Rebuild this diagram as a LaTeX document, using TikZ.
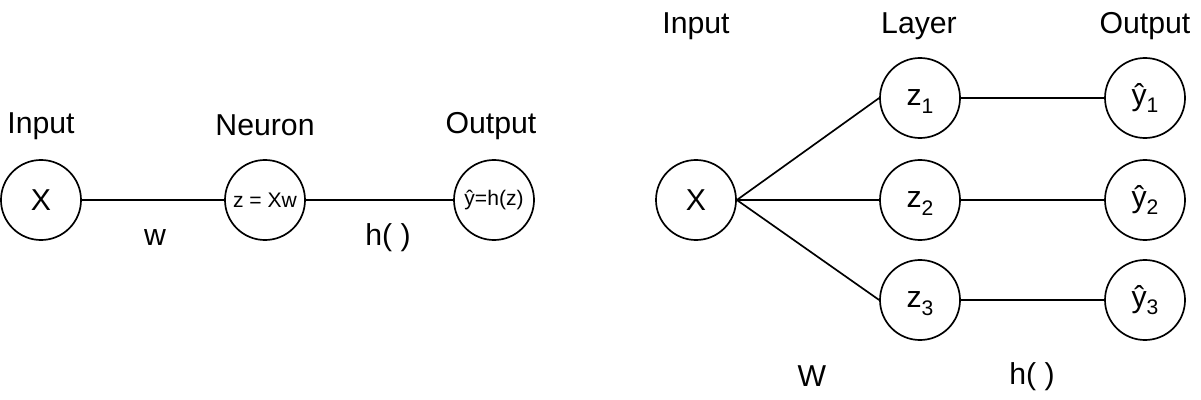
\documentclass[tikz,border=0pt]{standalone}
\usepackage{fontspec}
\setmainfont{Liberation Sans}
\newcommand\idx[1]{\smash{\raisebox{-5pt}{\fontsize{15}{16}\selectfont #1}}}
\begin{document}
\begin{tikzpicture}[x=0.025cm,y=-0.025cm,line width=1.2pt,
    neuron/.style={draw,circle,minimum size=2cm,inner sep=0pt,font=\fontsize{21.5}{24}\selectfont},
    lbl/.style={font=\fontsize{21.5}{24}\selectfont},
    small/.style={font=\fontsize{15}{17}\selectfont}]
  \useasboundingbox (0,0) rectangle (1201,400);
  % single neuron
  \node[neuron] (x) at (41,200) {X};
  \node[neuron,small] (n) at (265,200) {z = Xw};
  \node[neuron,small] (o) at (494,200) {ŷ=h(z)};
  \node[lbl] (lin) at (41,126) {Input};
  \node[lbl] (lneu) at (265,125) {Neuron};
  \node[lbl] (lout) at (491,126) {Output};
  \node[lbl] (w) at (155,238) {w};
  \node[lbl] (h) at (388,238) {h( )};
  \draw (x) -- (n);
  \draw (n) -- (o);
  % layer
  \node[neuron] (x2) at (696,200) {X};
  \foreach \i/\y in {1/98,2/200,3/300} {
    \node[neuron] (z\i) at (920,\y) {z\idx{\i}};
    \node[neuron] (y\i) at (1145,\y) {ŷ\idx{\i}};
    \draw (x2.east) -- (z\i.west);
    \draw (z\i) -- (y\i);
  }
  \node[lbl] (lin2) at (696,26) {Input};
  \node[lbl] (llay) at (919,26) {Layer};
  \node[lbl] (lout2) at (1145,26) {Output};
  \node[lbl] (bw) at (812,376) {W};
  \node[lbl] (bh) at (1032,377) {h( )};
\end{tikzpicture}
\end{document}
